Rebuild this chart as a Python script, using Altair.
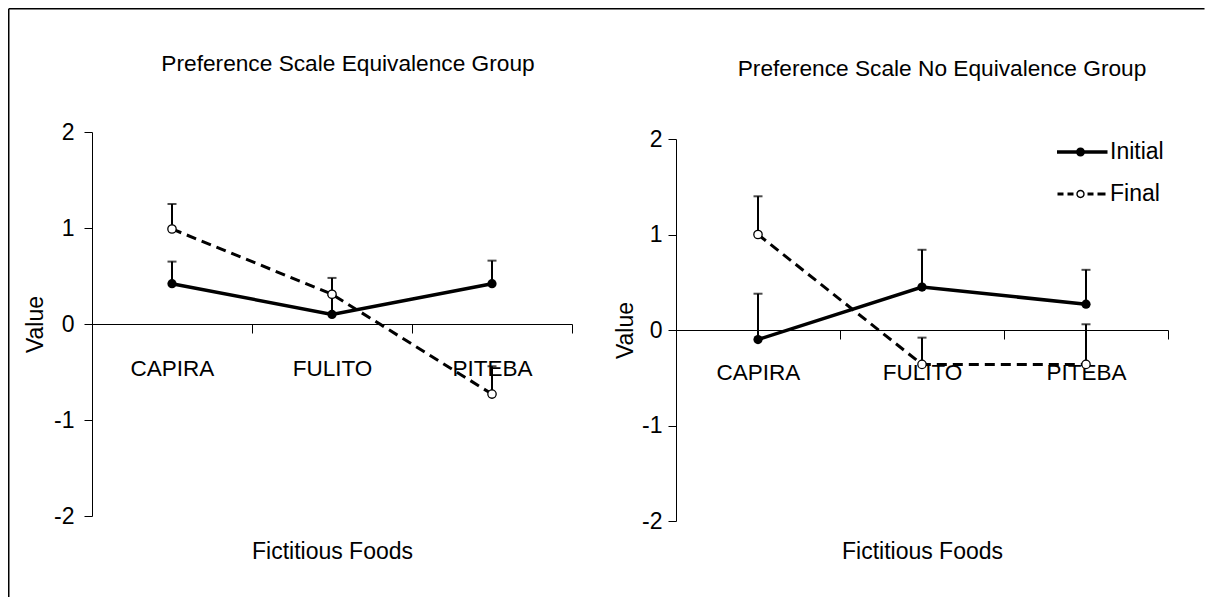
import altair as alt
import pandas as pd

# ---------------- data ----------------
foods = ["CAPIRA", "FULITO", "PITEBA"]
series_names = ["Initial", "Final"]

eq_initial = [0.42, 0.10, 0.42]
eq_initial_err = [0.23, 0.20, 0.24]
eq_final = [0.99, 0.31, -0.73]
eq_final_err = [0.26, 0.17, 0.29]

noeq_initial = [-0.10, 0.45, 0.27]
noeq_initial_err = [0.48, 0.39, 0.36]
noeq_final = [1.00, -0.36, -0.36]
noeq_final_err = [0.40, 0.28, 0.42]

panel_titles = ["Preference Scale Equivalence Group",
                "Preference Scale No Equivalence Group"]
x_title = "Fictitious Foods"
y_title = "Value"
y_ticks = [-2, -1, 0, 1, 2]

FONT = "Liberation Sans, Arial, sans-serif"

# legend symbols (custom paths, unit = sqrt(size)/2 px)
SYM_INITIAL = ("M-2.35,-0.18H2.7V0.18H-2.35Z "
               "M0.45,0A0.45,0.45,0,1,1,-0.45,0A0.45,0.45,0,1,1,0.45,0Z")
SYM_FINAL = ("M-2.3,-0.16H-1.7V0.16H-2.3Z M-1.3,-0.16H-0.7V0.16H-1.3Z "
             "M0.7,-0.16H1.3V0.16H0.7Z M1.7,-0.16H2.5V0.16H1.7Z "
             "M0.42,0A0.42,0.42,0,1,1,-0.42,0A0.42,0.42,0,1,1,0.42,0Z "
             "M0.28,0A0.28,0.28,0,1,0,-0.28,0A0.28,0.28,0,1,0,0.28,0Z")


def make_df(initial, ierr, final, ferr):
    rows = []
    for f, v, e in zip(foods, initial, ierr):
        rows.append({"food": f, "series": "Initial", "value": v, "top": v + e})
    for f, v, e in zip(foods, final, ferr):
        rows.append({"food": f, "series": "Final", "value": v, "top": v + e})
    return pd.DataFrame(rows)


def panel(df, title, width, height, yrange, x_offset, y_label_pad, y_title_pad,
          x_label_pad, x_title_pad, title_x, title_y, legend=False, frame=False):
    x_enc = alt.X("food:N", sort=foods,
                  scale=alt.Scale(type="band", paddingInner=0, paddingOuter=0),
                  axis=alt.Axis(title=x_title, labelAngle=0, tickBand="extent",
                                offset=x_offset, tickSize=9, tickWidth=1,
                                labelPadding=x_label_pad, labelFontSize=22.5,
                                titleFontSize=23, titlePadding=x_title_pad,
                                grid=False))
    y_scale = alt.Scale(domain=[-2, 2], range=yrange) if yrange else alt.Scale(domain=[-2, 2])
    y_enc = alt.Y("value:Q", scale=y_scale,
                  axis=alt.Axis(title=y_title, values=y_ticks, grid=False,
                                tickSize=8, labelPadding=y_label_pad,
                                labelFontSize=23, titleFontSize=23,
                                titlePadding=y_title_pad,
                                labelExpr="'' + datum.value"))

    base = alt.Chart(df)
    ini = base.transform_filter(alt.datum.series == "Initial")
    fin = base.transform_filter(alt.datum.series == "Final")

    stems = base.mark_rule(color="black", strokeWidth=2).encode(
        x=x_enc, y=y_enc, y2="top:Q")
    caps = base.mark_tick(color="black", size=9, thickness=2).encode(
        x=x_enc, y=alt.Y("top:Q", scale=y_scale))
    line_i = ini.mark_line(color="black", strokeWidth=3.5).encode(x=x_enc, y=y_enc)
    line_f = fin.mark_line(color="black", strokeWidth=3, strokeDash=[10, 6]).encode(
        x=x_enc, y=y_enc)
    pts_i = ini.mark_point(shape="circle", filled=True, color="black", size=85,
                           opacity=1).encode(x=x_enc, y=y_enc)
    pts_f = fin.mark_point(shape="circle", filled=True, fill="white", stroke="black",
                           strokeWidth=1.3, size=70, opacity=1).encode(x=x_enc, y=y_enc)

    ttl = alt.Chart(pd.DataFrame({"t": [title]})).mark_text(
        font=FONT, fontSize=22.7, color="black", align="center",
        baseline="alphabetic").encode(
        text="t:N", x=alt.value(title_x), y=alt.value(title_y))

    layers = [stems, caps, line_i, line_f, pts_i, pts_f, ttl]

    if legend:
        leg = base.mark_point(filled=True, color="black", opacity=0).encode(
            x=x_enc, y=y_enc,
            shape=alt.Shape("series:N",
                            scale=alt.Scale(domain=series_names,
                                            range=[SYM_INITIAL, SYM_FINAL]),
                            legend=alt.Legend(title=None, orient="none",
                                              legendX=977, legendY=8.5,
                                              symbolSize=400,
                                              symbolFillColor="black",
                                              symbolStrokeWidth=0,
                                              symbolOpacity=1,
                                              labelFont=FONT, labelFontSize=23,
                                              labelColor="black",
                                              labelOffset=18, rowPadding=18,
                                              padding=0)))
        layers.append(leg)

    if frame:
        fr = alt.Chart(pd.DataFrame({"k": [0]}))
        vline = fr.mark_rule(color="black", strokeWidth=1.5).encode(
            x=alt.value(-83.25), y=alt.value(-123.25), y2=alt.value(465))
        hline = fr.mark_rule(color="black", strokeWidth=1.5).encode(
            x=alt.value(-83.25), x2=alt.value(1112.5), y=alt.value(-123.25))
        layers = [vline, hline] + layers

    return alt.layer(*layers).properties(width=width, height=height)


left = panel(make_df(eq_initial, eq_initial_err, eq_final, eq_final_err),
             panel_titles[0], 480, 384, None, -192, 10, 6, 24, 161,
             256, -61, legend=False, frame=True)
right = panel(make_df(noeq_initial, noeq_initial_err, noeq_final, noeq_final_err),
              panel_titles[1], 492, 389, [389, 7], -191, 6, 4, 22, 157,
              266, -56, legend=True, frame=False)

chart = alt.hconcat(left, right, spacing=104, bounds="flush").properties(
    padding=0,
).configure_view(stroke=None).configure_axis(
    labelFont=FONT, titleFont=FONT, titleFontWeight="normal",
    labelColor="black", titleColor="black", domainColor="black",
    tickColor="black", domainWidth=1,
)

chart.save("out.html", embed_options={"renderer": "svg", "actions": False})
